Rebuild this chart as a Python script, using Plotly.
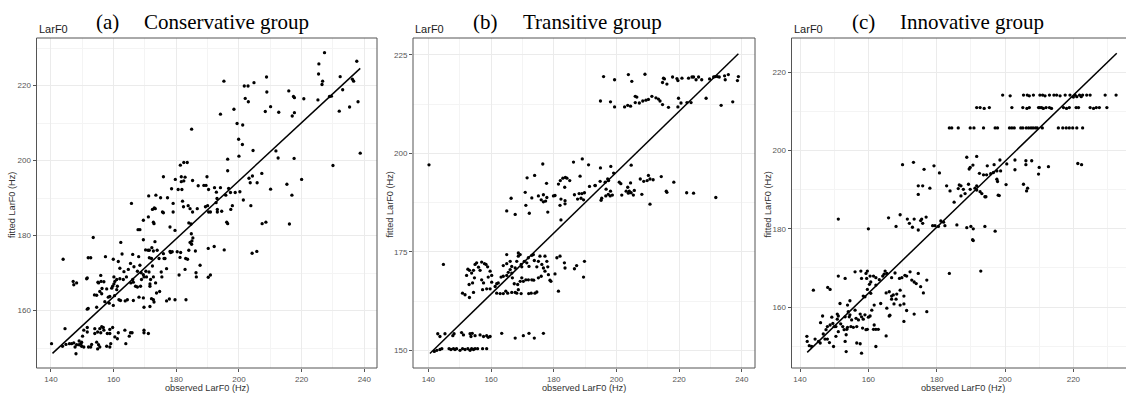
import plotly.graph_objects as go

# ---------------- data ----------------
# Panel (a) Conservative group
a_observed = [
    227.3, 225.5, 237.6, 225.4, 226.7, 226.5, 232.3, 233.1, 236.2, 236.6,
    225.2, 228.9, 229.5, 232.0, 235.3, 238.0, 238.7, 230.0, 195.2, 201.7,
    202.9, 204.8, 208.8, 208.9, 202.0, 203.0, 194.1, 198.4, 215.9, 217.4,
    217.7, 220.7, 208.4, 210.1, 212.7, 217.0, 217.7, 199.4, 201.2, 184.9,
    199.9, 201.1, 204.5, 200.0, 211.8, 212.5, 217.6, 196.4, 196.4, 182.4,
    183.5, 181.3, 181.6, 182.8, 181.6, 182.4, 175.9, 179.7, 178.5, 180.6,
    181.8, 185.2, 187.0, 188.8, 189.5, 189.8, 190.3, 192.2, 192.8, 194.1,
    196.7, 203.2, 204.3, 203.6, 205.8, 207.3, 210.1, 215.3, 216.9, 220.0,
    171.2, 173.5, 175.0, 177.2, 193.0, 195.8, 197.3, 198.8, 200.3,
    165.7, 173.0, 172.4, 173.3, 169.5, 171.1, 172.7, 172.9, 175.6, 175.9,
    179.0, 179.0, 182.0, 182.3, 183.8, 184.4, 185.2, 186.7, 189.3, 190.0,
    190.3, 190.9, 192.7, 193.1, 193.1, 194.5, 197.4, 197.9, 201.4, 203.8,
    196.1, 196.4, 207.4, 208.6, 216.1, 204.2, 205.7, 195.3, 192.1, 190.2,
    190.9, 190.2, 168.4, 167.8, 169.5, 173.2, 153.5, 162.3, 166.1, 168.0,
    170.2, 171.0, 172.2, 173.9, 175.9, 176.1, 174.5, 171.4, 178.0, 178.2,
    178.7, 179.6, 178.0, 181.4, 181.2, 180.3, 183.0, 183.6, 184.0, 184.0,
    184.7, 184.8, 185.3, 185.0, 184.4, 184.9, 186.1, 187.6, 186.3, 186.4,
    182.8, 180.9, 175.2, 176.9, 176.4, 172.1, 172.4, 143.9, 151.9, 152.7,
    157.4, 159.9, 161.5, 162.0, 162.7, 165.4, 164.7, 163.3, 166.5, 167.6,
    168.4, 168.8, 169.5, 170.3, 171.3, 170.5, 169.7, 171.8, 171.6, 168.9,
    168.6, 167.0, 167.6, 166.1, 165.5, 166.3, 164.1, 163.1, 162.0, 161.0,
    160.1, 160.4, 161.2, 159.7, 160.1, 159.4, 161.0, 157.8, 156.3, 155.6,
    156.2, 155.2, 155.0, 156.0, 156.9, 155.9, 151.4, 151.6, 147.1, 147.3,
    148.2, 153.9, 154.6, 160.3, 158.8, 158.3, 158.6, 159.9, 157.2, 154.6,
    151.9, 151.6, 161.7, 162.2, 163.7, 164.4, 166.3, 168.1, 169.5, 169.7,
    171.6, 172.1, 172.7, 172.9, 173.7, 174.7, 176.9, 177.8, 179.6, 183.1,
    173.4, 171.6, 175.4, 172.7, 172.7, 171.4,
    144.5, 140.2, 143.7, 144.8, 145.9, 146.6, 147.7, 148.2, 148.0, 149.0,
    149.8, 150.1, 150.5, 149.0, 149.6, 149.8, 150.5, 152.0, 153.0, 152.7,
    151.6, 151.6, 154.0, 154.9, 155.6, 156.2, 156.7, 156.9, 155.9, 154.0,
    154.6, 155.2, 154.9, 155.6, 158.0, 158.8, 158.8, 159.7, 160.4, 157.8,
    158.8, 159.1, 161.5, 161.2, 163.6, 165.4, 165.0, 163.9, 165.9, 169.7,
    169.7, 171.1, 147.3,
]
a_fitted = [
    228.8, 225.8, 226.5, 223.1, 221.2, 220.3, 222.4, 218.9, 221.7, 221.2,
    216.2, 217.1, 217.2, 213.2, 214.3, 215.7, 202.0, 198.7, 221.2, 219.9,
    219.9, 220.8, 222.3, 218.3, 216.6, 215.7, 212.4, 213.7, 218.6, 217.1,
    216.8, 216.5, 213.1, 214.4, 212.9, 211.9, 212.8, 209.9, 209.5, 208.4,
    205.7, 204.3, 202.7, 201.2, 202.6, 200.7, 200.6, 200.4, 197.3, 199.5,
    199.5, 198.8, 195.7, 195.6, 194.4, 194.6, 195.7, 195.0, 192.5, 192.3,
    192.3, 194.7, 193.3, 193.4, 193.4, 195.7, 192.3, 192.8, 191.6, 192.8,
    192.6, 195.3, 195.9, 194.1, 194.1, 196.6, 192.4, 193.7, 190.8, 195.0,
    190.6, 190.8, 190.1, 190.1, 189.9, 190.8, 191.5, 191.5, 191.7,
    188.6, 187.4, 187.0, 187.2, 184.1, 185.0, 183.6, 183.2, 186.3, 186.1,
    188.6, 186.3, 189.2, 187.7, 188.0, 187.2, 186.3, 187.2, 187.7, 188.0,
    186.3, 186.3, 188.8, 187.0, 186.3, 186.5, 187.0, 188.0, 189.5, 188.0,
    183.6, 183.2, 183.2, 183.6, 183.1, 175.3, 175.8, 176.2, 177.1, 176.6,
    169.5, 168.9, 181.6, 181.6, 178.9, 178.4, 179.5, 178.2, 175.0, 174.4,
    176.2, 176.1, 176.8, 176.1, 175.2, 173.9, 173.9, 174.1, 175.8, 175.5,
    175.7, 181.4, 182.3, 175.5, 174.2, 175.7, 173.9, 173.7, 176.1, 183.4,
    183.1, 180.5, 179.4, 178.6, 178.2, 177.7, 175.9, 172.1, 170.1, 169.0,
    171.0, 169.5, 170.3, 171.2, 173.9, 173.9, 171.9, 173.7, 174.1, 174.1,
    174.4, 173.7, 173.1, 171.3, 175.1, 172.6, 171.0, 170.4, 171.7, 170.5,
    172.1, 170.1, 169.6, 170.5, 170.3, 169.0, 169.0, 168.3, 167.1, 168.3,
    166.5, 166.5, 166.3, 168.3, 167.4, 167.6, 169.0, 168.3, 168.5, 168.3,
    169.0, 167.8, 166.5, 166.5, 167.1, 166.0, 165.6, 165.8, 165.9, 165.1,
    164.5, 167.4, 167.6, 167.8, 167.7, 169.4, 168.5, 168.7, 167.8, 166.9,
    167.4, 164.2, 164.1, 164.0, 163.8, 163.6, 162.0, 161.4, 162.4, 160.9,
    160.6, 160.4, 162.9, 162.7, 162.6, 162.9, 162.7, 163.6, 163.4, 160.9,
    161.1, 163.2, 162.9, 162.3, 164.7, 165.1, 162.6, 163.1, 162.9, 162.9,
    167.4, 166.5, 169.0, 169.0, 175.9, 176.1,
    155.2, 151.2, 150.5, 151.0, 151.2, 151.2, 150.3, 150.9, 148.5, 151.9,
    151.6, 153.2, 154.8, 150.9, 151.2, 150.5, 150.3, 150.3, 151.0, 150.3,
    155.5, 154.3, 155.2, 154.3, 155.2, 155.7, 155.5, 154.8, 154.1, 153.9,
    151.6, 150.9, 149.8, 150.3, 153.9, 153.9, 155.0, 155.5, 153.0, 150.5,
    150.3, 151.2, 154.1, 152.5, 154.8, 154.1, 153.2, 151.2, 154.1, 154.8,
    154.1, 153.9, 151.4,
]
a_line_x = [140.5, 238.7]
a_line_y = [148.6, 224.6]

# Panel (b) Transitive group
b_observed = [
    195.9, 199.4, 203.8, 204.9, 209.1, 215.0, 215.3, 214.7, 216.1, 217.9,
    219.3, 219.6, 220.9, 223.0, 224.1, 224.6, 225.4, 226.2, 227.2, 229.7,
    231.0, 231.5, 232.2, 232.8, 234.5, 234.7, 235.7, 238.6, 238.9,
    194.9, 198.1, 199.4, 202.6, 203.6, 204.5, 206.0, 206.5, 206.0, 207.3,
    208.4, 209.4, 210.2, 211.3, 212.6, 213.4, 213.9, 214.7, 216.6, 219.8,
    219.6, 220.6, 222.5, 223.8, 228.6, 233.4, 237.1,
    140.2, 176.5, 186.3, 189.1, 191.1, 194.9, 198.2, 204.7, 171.5, 173.9,
    177.7, 181.5, 182.1, 182.9, 183.7, 184.2, 185.1, 183.5, 188.4, 193.2,
    194.8, 196.4, 197.2, 197.5, 199.1, 198.1, 196.7, 200.9, 201.4, 203.6,
    204.5, 205.7, 203.1, 204.1, 204.7, 207.6, 208.7, 209.8, 210.2, 210.7,
    211.7, 214.3, 218.3, 215.9, 222.4, 224.6, 231.7, 170.9, 173.0, 176.7,
    180.4, 186.6, 188.1, 189.0, 189.8, 191.4, 193.2, 166.4,
    171.1, 175.1, 176.0, 176.7, 177.4, 177.8, 165.0, 167.7, 172.2, 178.1,
    179.9, 182.0, 182.3, 183.6, 183.6, 182.3, 187.6, 188.7, 189.5, 195.3,
    196.6, 195.1, 197.4, 198.0, 198.7, 201.7, 203.8, 205.4, 208.1, 210.7,
    216.1,
    144.8, 152.6, 152.2, 153.1, 153.8, 154.4, 154.9, 155.4, 156.0, 154.7,
    154.1, 153.0, 154.4, 156.5, 157.0, 157.9, 158.4, 158.9, 159.7, 160.2,
    157.6, 159.1, 157.0, 158.6, 157.3, 150.9, 151.7, 153.1, 159.7, 160.2,
    161.3, 161.8, 161.8, 162.9, 163.9, 164.7, 165.3, 166.6, 167.7, 168.2,
    168.7, 169.6, 172.0, 172.8, 174.0, 174.6, 162.3, 163.2, 163.9, 165.0,
    165.5, 166.1, 166.6, 166.8, 167.4, 168.5, 169.3, 169.8, 170.3, 171.1,
    171.9, 173.0, 173.6, 175.1, 176.0, 177.2, 178.3, 178.8, 179.1, 163.9,
    165.0, 166.1, 166.6, 167.7, 168.2, 168.7, 169.3, 169.6, 169.8, 170.6,
    171.4, 171.9, 172.1, 173.0, 173.5, 173.8, 174.6, 175.1, 175.6, 176.2,
    176.7, 177.2, 177.8, 178.1, 181.0, 182.0, 183.4, 183.6, 180.4, 181.5,
    186.6, 187.3, 189.8, 189.5, 165.0, 168.7,
    143.0, 143.7, 145.3, 147.8, 148.2, 150.6, 151.2, 153.3, 153.6, 154.0,
    154.9, 156.5, 157.6, 158.6, 159.1, 159.7, 163.4, 167.7, 170.3, 172.1,
    173.8, 176.7,
    141.9, 142.7, 143.7, 144.3, 146.6, 147.2, 148.0, 148.5, 149.0, 150.1,
    150.9, 151.7, 152.6, 153.3, 153.8, 154.4, 154.9, 155.7, 157.3, 158.6,
]
b_fitted = [
    219.5, 218.7, 220.0, 218.3, 220.1, 219.1, 218.9, 218.0, 217.6, 219.4,
    219.0, 218.5, 219.1, 219.1, 219.4, 219.4, 218.7, 219.4, 218.7, 218.9,
    219.4, 219.5, 219.5, 219.4, 219.7, 218.7, 220.0, 218.5, 219.5,
    213.3, 213.1, 211.8, 211.8, 212.2, 212.0, 214.5, 214.3, 212.9, 212.8,
    213.3, 213.5, 213.7, 214.5, 214.1, 213.8, 213.3, 212.4, 211.7, 214.0,
    211.8, 212.8, 212.9, 212.9, 214.0, 212.2, 213.1,
    197.1, 197.3, 197.8, 198.6, 197.1, 196.3, 196.7, 197.0, 193.8, 194.4,
    192.4, 192.2, 193.1, 193.7, 193.9, 193.7, 193.1, 191.4, 194.2, 191.9,
    192.9, 192.7, 193.5, 193.1, 195.0, 190.4, 190.9, 192.7, 192.3, 191.4,
    192.5, 190.6, 190.4, 190.4, 190.0, 193.5, 192.9, 193.1, 194.4, 193.5,
    193.3, 194.1, 192.7, 190.4, 190.0, 189.9, 188.8, 190.1, 188.7, 189.5,
    189.3, 189.5, 189.8, 189.8, 190.0, 191.6, 191.8, 188.6,
    186.8, 189.2, 188.2, 187.7, 187.9, 188.8, 185.4, 184.5, 184.8, 185.1,
    189.2, 186.8, 188.4, 188.0, 187.2, 183.1, 188.4, 188.6, 188.2, 188.6,
    189.2, 188.1, 189.6, 189.2, 189.4, 189.4, 189.9, 189.4, 189.6, 187.1,
    190.1,
    171.8, 170.6, 169.0, 170.3, 169.6, 170.3, 171.8, 172.2, 171.1, 168.4,
    167.1, 166.7, 164.7, 170.3, 172.4, 172.0, 171.8, 171.2, 170.1, 169.0,
    167.1, 168.6, 167.9, 165.6, 165.4, 164.5, 164.1, 163.4, 165.6, 167.3,
    166.2, 166.9, 164.5, 164.4, 164.4, 165.0, 164.5, 164.7, 164.7, 164.5,
    165.4, 164.4, 164.4, 164.5, 164.5, 164.8, 167.1, 168.6, 168.8, 169.0,
    169.8, 170.5, 169.6, 168.4, 166.9, 166.7, 167.5, 168.4, 167.5, 167.9,
    167.9, 167.9, 167.8, 168.4, 168.8, 170.1, 169.2, 167.8, 167.5, 171.5,
    172.0, 172.6, 171.3, 170.9, 172.6, 173.9, 174.3, 171.8, 171.2, 172.6,
    172.2, 173.5, 171.3, 174.1, 174.3, 172.8, 171.2, 172.6, 173.9, 171.8,
    170.9, 173.9, 172.6, 171.2, 173.5, 173.9, 172.2, 170.9, 169.4, 165.0,
    170.7, 171.5, 172.6, 168.6, 174.3, 174.7,
    154.2, 153.5, 154.2, 153.7, 154.2, 154.5, 153.9, 154.2, 153.5, 154.3,
    153.7, 153.9, 153.5, 153.7, 153.3, 153.5, 154.3, 153.1, 153.7, 154.3,
    153.1, 154.3,
    149.7, 150.0, 150.2, 150.4, 150.4, 150.2, 150.4, 150.2, 150.4, 150.0,
    150.4, 150.2, 150.4, 150.0, 150.4, 150.2, 150.4, 150.4, 150.4, 150.4,
]
b_line_x = [140.5, 238.9]
b_line_y = [149.2, 225.3]

# Panel (c) Innovative group
c_observed = [
    199.3, 201.5, 205.4, 206.5, 207.1, 208.3, 210.2, 211.0, 211.7, 213.0,
    214.3, 215.1, 216.1, 217.6, 219.0, 220.5, 221.0, 221.8, 222.7, 223.9,
    224.9, 229.3, 232.5, 220.0, 222.3,
    191.7, 192.7, 193.9, 195.4, 202.0, 205.2, 206.4, 207.1, 209.8, 210.2,
    210.7, 211.2, 212.0, 213.0, 213.6, 217.1, 218.0, 218.8, 220.8, 221.5,
    224.9, 225.9, 226.7, 227.6, 229.8,
    183.7, 184.4, 186.3, 189.8, 190.9, 193.7, 197.1, 197.8, 201.3, 202.0,
    202.7, 204.6, 205.2, 206.2, 206.9, 207.6, 208.2, 208.9, 209.4, 210.9,
    215.6, 216.9, 217.9, 218.8, 219.8, 221.0, 222.7,
    170.0, 173.2, 176.3, 179.2, 180.8, 188.8, 191.7, 189.5, 190.6, 189.8,
    192.5, 193.7, 194.6, 194.8, 196.8, 195.8, 196.6, 197.6, 198.7, 197.6,
    198.5, 200.5, 202.9, 202.9, 206.1, 206.1, 207.8, 210.0, 209.8, 212.7,
    221.3, 222.4, 174.6, 175.9, 174.6, 178.0, 182.9, 183.9, 186.6, 186.3,
    187.1, 187.8, 188.3, 187.1, 189.3, 189.8, 191.2, 191.7, 192.7, 193.2,
    194.4, 191.7, 198.0, 200.3, 205.4, 206.3, 206.6, 197.8,
    185.1, 194.1, 198.3, 151.2, 165.9, 169.3, 168.1, 171.4, 172.0, 173.4,
    172.9, 174.6, 175.3, 175.6, 175.9, 176.9, 160.0, 178.8, 179.5, 180.5,
    181.2, 182.0, 182.4, 185.9, 188.8, 190.0, 190.7, 194.1, 197.1, 190.7,
    190.5, 183.7, 192.9,
    143.9, 148.1, 148.8, 151.2, 153.2, 156.1, 157.8, 159.3, 159.7, 158.0,
    159.5, 160.5, 161.5, 162.2, 160.7, 160.3, 159.7, 160.7, 159.0, 158.5,
    162.2, 163.2, 164.2, 164.6, 164.9, 165.4, 166.8, 167.8, 169.1, 169.8,
    170.7, 172.2, 172.7, 173.4, 174.0, 174.6, 175.3, 176.1, 177.1, 171.2,
    165.2, 166.1, 166.8, 167.3, 168.1, 168.3, 169.3, 170.4, 166.8, 163.6,
    165.4, 166.1, 166.3, 167.5, 169.3, 170.4, 171.2, 170.4, 173.4, 177.1,
    165.2,
    142.0, 142.1, 142.7, 144.4, 145.4, 146.0, 146.6, 146.8, 147.6, 148.0,
    148.0, 148.6, 148.8, 149.3, 149.6, 150.0, 149.8, 150.5, 150.9, 150.9,
    151.2, 151.7, 151.9, 152.5, 152.9, 153.2, 153.5, 153.7, 153.9, 153.2,
    153.5, 153.9, 154.1, 154.4, 154.6, 154.9, 155.1, 155.6, 154.6, 156.1,
    156.4, 156.6, 157.1, 156.6, 157.6, 157.6, 158.0, 158.5, 159.0, 158.0,
    158.3, 159.3, 159.7, 160.0, 160.5, 161.0, 161.7, 161.5, 162.2, 162.9,
    161.7, 162.2, 145.9, 150.5, 151.2, 143.4, 147.3,
]
c_fitted = [
    214.2, 214.0, 214.2, 214.2, 214.0, 214.2, 214.2, 214.2, 214.0, 214.2,
    214.2, 214.2, 214.0, 214.2, 214.2, 214.2, 213.8, 214.2, 214.2, 214.2,
    214.2, 214.2, 214.2, 213.7, 213.8,
    211.0, 211.0, 210.8, 211.0, 211.0, 211.0, 210.8, 211.0, 211.0, 211.0,
    211.0, 210.8, 211.0, 211.0, 210.8, 211.0, 210.8, 211.0, 211.0, 211.0,
    211.0, 210.8, 211.0, 211.0, 211.0,
    205.8, 205.8, 205.8, 205.8, 205.8, 205.8, 205.8, 205.8, 205.8, 205.8,
    205.8, 205.8, 205.8, 205.8, 205.8, 205.8, 205.8, 205.8, 205.8, 205.8,
    205.8, 205.8, 205.8, 205.8, 205.8, 205.8, 205.8,
    196.4, 197.0, 195.2, 196.1, 194.3, 198.3, 198.5, 195.3, 196.3, 195.7,
    194.2, 193.8, 193.8, 196.1, 196.4, 194.1, 194.4, 194.8, 194.8, 192.7,
    197.6, 196.6, 197.6, 195.1, 197.4, 196.4, 197.4, 195.7, 194.0, 195.9,
    196.7, 196.4, 191.0, 191.0, 188.8, 190.4, 191.0, 189.7, 191.2, 190.3,
    191.0, 190.1, 189.0, 188.4, 191.4, 190.1, 190.4, 189.9, 189.5, 189.0,
    188.2, 191.0, 188.6, 191.3, 191.4, 189.7, 190.4, 192.1,
    186.8, 188.2, 188.5, 182.5, 182.8, 183.6, 180.6, 182.5, 181.4, 182.5,
    180.4, 179.7, 182.1, 182.5, 181.4, 183.0, 180.0, 180.8, 180.8, 180.6,
    182.0, 181.7, 180.8, 181.0, 180.3, 180.6, 180.0, 180.6, 179.4, 177.0,
    177.2, 168.6, 169.2,
    164.3, 165.0, 164.5, 167.9, 167.3, 169.0, 169.2, 168.6, 169.2, 167.3,
    167.3, 167.9, 167.9, 167.5, 166.4, 165.8, 164.5, 163.5, 162.6, 162.8,
    165.6, 167.0, 167.9, 168.4, 169.2, 168.6, 167.5, 168.7, 167.3, 167.5,
    168.1, 169.0, 166.9, 166.4, 166.0, 168.6, 165.2, 163.6, 166.9, 167.9,
    163.6, 163.9, 162.8, 163.1, 162.0, 163.3, 164.3, 162.8, 162.0, 160.9,
    159.7, 157.7, 157.9, 160.8, 160.5, 160.8, 159.1, 156.3, 158.2, 158.8,
    152.6,
    152.5, 151.2, 150.1, 151.8, 151.2, 156.0, 157.7, 153.1, 154.2, 155.0,
    151.8, 150.9, 155.4, 157.4, 155.8, 155.0, 149.9, 155.0, 156.9, 158.2,
    157.7, 160.9, 155.7, 155.0, 154.2, 157.5, 152.9, 154.3, 154.8, 151.2,
    148.6, 160.5, 158.8, 157.5, 158.0, 155.0, 156.7, 154.8, 161.6, 159.2,
    157.1, 155.0, 156.7, 150.8, 150.6, 158.2, 157.5, 156.9, 158.0, 148.2,
    154.6, 154.2, 154.3, 157.4, 157.7, 159.2, 160.5, 154.3, 154.3, 154.3,
    155.4, 149.9, 150.8, 152.5, 153.7, 149.9, 151.8,
]
c_line_x = [142.1, 232.7]
c_line_y = [148.4, 224.9]

panel_letters = ["(a)", "(b)", "(c)"]
panel_titles = ["Conservative group", "Transitive group", "Innovative group"]

# ---------------- layout geometry ----------------
W, H = 1126, 394
def px_x(p):
    return p / W
def px_y(p):
    return 1 - p / H

TOP, BOTTOM = 38, 368
panels = [
    dict(obs=a_observed, fit=a_fitted, lx=a_line_x, ly=a_line_y,
         x0=36.5, x1=377, xr=[135.4, 244.05], yr=[144.7, 232.7],
         ydt=20, yt0=160, letter_c=107, title_c=226.5, ytitle_x=12, xt_c=206.5),
    dict(obs=b_observed, fit=b_fitted, lx=b_line_x, ly=b_line_y,
         x0=413, x1=755, xr=[135.1, 244.2], yr=[145.5, 229.3],
         ydt=25, yt0=150, letter_c=485.5, title_c=592.5, ytitle_x=389.5, xt_c=584),
    dict(obs=c_observed, fit=c_fitted, lx=c_line_x, ly=c_line_y,
         x0=791.5, x1=1126, xr=[137.5, 235.4], yr=[144.4, 228.8],
         ydt=20, yt0=160, letter_c=863.5, title_c=972.5, ytitle_x=767.5, xt_c=963),
]

SANS = "Liberation Sans, Arial, sans-serif"
SERIF = "Liberation Serif, Times New Roman, serif"
GRID = "#EBEBEB"
MINOR = "#F4F4F4"
BORDER = "#555555"

fig = go.Figure()
annotations = []
shapes = []
layout_axes = {}

for i, p in enumerate(panels):
    n = "" if i == 0 else str(i + 1)
    xa, ya = "x" + n, "y" + n
    fig.add_trace(go.Scatter(
        x=p["obs"], y=p["fit"], mode="markers", xaxis=xa, yaxis=ya,
        marker=dict(size=3.3, color="black"), showlegend=False, hoverinfo="skip"))
    fig.add_trace(go.Scatter(
        x=p["lx"], y=p["ly"], mode="lines", xaxis=xa, yaxis=ya,
        line=dict(color="black", width=1.5), showlegend=False, hoverinfo="skip"))

    layout_axes["xaxis" + n] = dict(
        domain=[px_x(p["x0"]), min(1.0, px_x(p["x1"]))], range=p["xr"],
        anchor=ya, tick0=140, dtick=20, ticks="outside", ticklen=3,
        tickwidth=1, tickcolor=BORDER, showgrid=True, gridcolor=GRID,
        gridwidth=1, zeroline=False, showline=False,
        tickfont=dict(family=SANS, size=8, color="#555555"),
        minor=dict(tick0=140, dtick=10, showgrid=True, gridcolor=MINOR,
                   gridwidth=0.7),
        fixedrange=True)
    layout_axes["yaxis" + n] = dict(
        domain=[px_y(BOTTOM), px_y(TOP)], range=p["yr"], anchor=xa,
        tick0=p["yt0"], dtick=p["ydt"], ticks="outside", ticklen=3,
        tickwidth=1, tickcolor=BORDER, showgrid=True, gridcolor=GRID,
        gridwidth=1, zeroline=False, showline=False,
        tickfont=dict(family=SANS, size=8, color="#555555"),
        minor=dict(tick0=p["yt0"], dtick=p["ydt"] / 2, showgrid=True,
                   gridcolor=MINOR, gridwidth=0.7),
        fixedrange=True)

    # panel border
    shapes.append(dict(type="rect", xref="paper", yref="paper",
                       x0=px_x(p["x0"]), x1=px_x(p["x1"]) if i < 2 else 1.02,
                       y0=px_y(BOTTOM), y1=px_y(TOP),
                       line=dict(color=BORDER, width=1), fillcolor="rgba(0,0,0,0)",
                       layer="above"))

    # texts
    annotations.append(dict(text="LarF0", x=px_x(p["x0"]), y=px_y(29.5),
                            xref="paper", yref="paper", xanchor="left",
                            yanchor="middle", showarrow=False,
                            font=dict(family=SANS, size=11, color="#1a1a1a")))
    annotations.append(dict(text=panel_letters[i], x=px_x(p["letter_c"]), y=px_y(22),
                            xref="paper", yref="paper", xanchor="center",
                            yanchor="middle", showarrow=False,
                            font=dict(family=SERIF, size=21, color="black")))
    annotations.append(dict(text=panel_titles[i], x=px_x(p["title_c"]), y=px_y(22),
                            xref="paper", yref="paper", xanchor="center",
                            yanchor="middle", showarrow=False,
                            font=dict(family=SERIF, size=21, color="black")))
    annotations.append(dict(text="observed LarF0 (Hz)", x=px_x(p["xt_c"]),
                            y=px_y(387.5), xref="paper", yref="paper",
                            xanchor="center", yanchor="middle", showarrow=False,
                            font=dict(family=SANS, size=9.2, color="#333333")))
    annotations.append(dict(text="fitted LarF0 (Hz)", x=px_x(p["ytitle_x"]),
                            y=px_y(205), xref="paper", yref="paper",
                            xanchor="center", yanchor="middle", textangle=-90,
                            showarrow=False,
                            font=dict(family=SANS, size=9.2, color="#333333")))

fig.update_layout(
    width=W, height=H, margin=dict(l=0, r=0, t=0, b=0),
    paper_bgcolor="white", plot_bgcolor="white",
    annotations=annotations, shapes=shapes, **layout_axes)

fig.write_html("out.html", config={"displayModeBar": False},
               post_script="document.body.style.margin='0';"
                           "document.body.style.overflow='hidden';")
